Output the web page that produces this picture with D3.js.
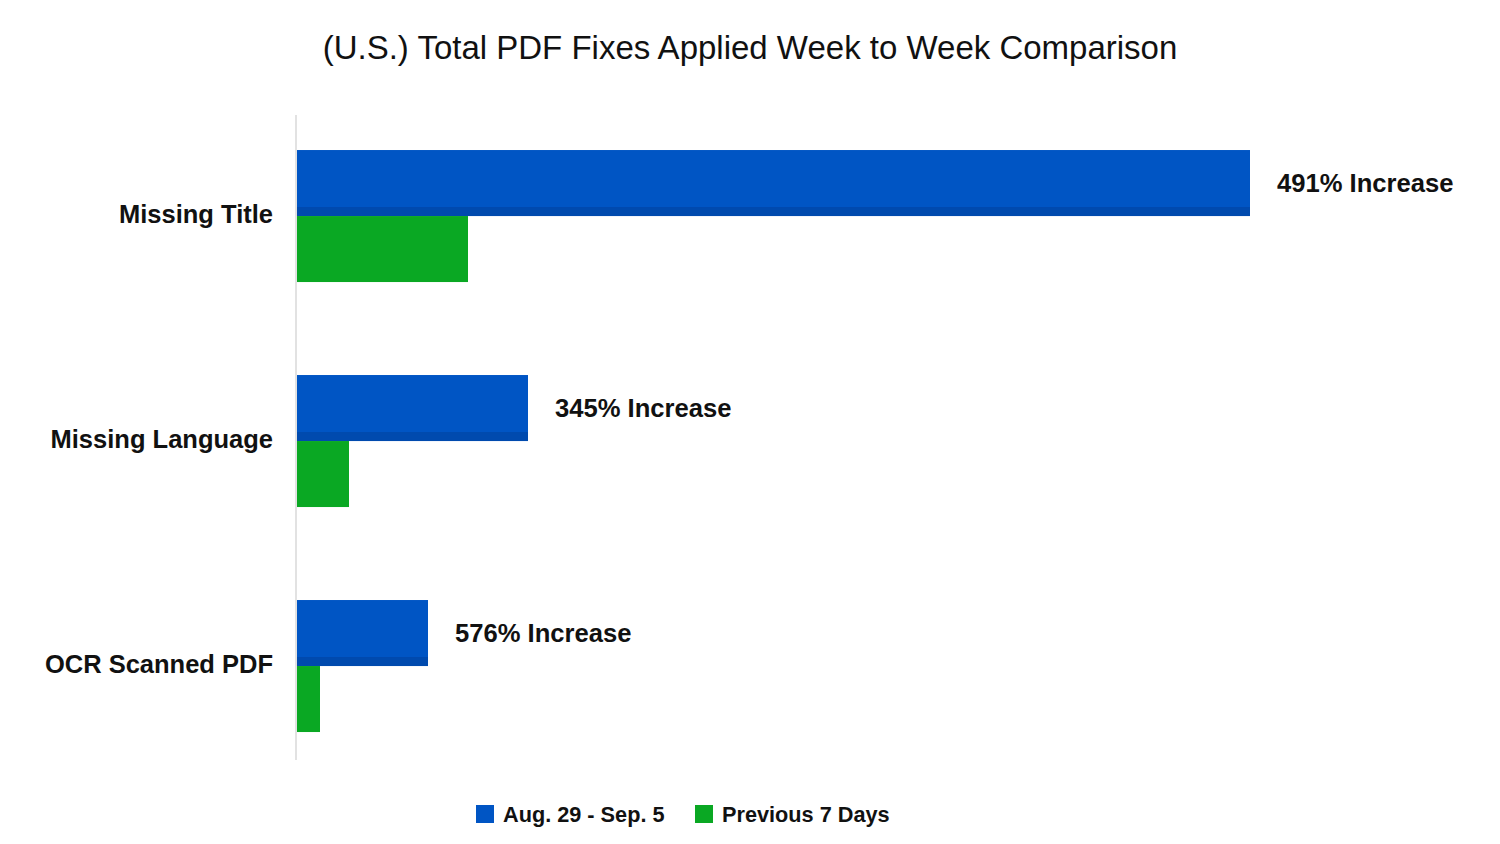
<!DOCTYPE html>
<html>
<head>
<meta charset="utf-8">
<script src="https://cdn.jsdelivr.net/npm/d3@7"></script>
<style>
  body { margin: 0; background: #fff; }
  text { font-family: "Liberation Sans", Arial, Helvetica, sans-serif; }
</style>
</head>
<body>
<div id="chart"></div>
<script>
const categories = ["Missing Title", "Missing Language", "OCR Scanned PDF"];
const currentWeek = [9530, 2310, 1310];
const previousWeek = [1710, 520, 230];
const increaseLabels = ["491% Increase", "345% Increase", "576% Increase"];
const seriesNames = ["Aug. 29 - Sep. 5", "Previous 7 Days"];
const colors = ["#0055c4", "#0aa823"];

const svg = d3.select("#chart")
    .append("svg")
    .attr("width", 1500)
    .attr("height", 844);

// title
svg.append("text")
    .attr("x", 750)
    .attr("y", 59)
    .attr("text-anchor", "middle")
    .attr("font-size", 33)
    .attr("fill", "#111")
    .text("(U.S.) Total PDF Fixes Applied Week to Week Comparison");

const x = d3.scaleLinear()
    .domain([0, 9530])
    .range([297, 1250]);

const y = d3.scaleBand()
    .domain(categories)
    .range([115, 760])
    .paddingInner(0.4133)
    .paddingOuter(0.14)
    .align(0.556);

const inner = d3.scaleBand()
    .domain([0, 1])
    .range([0, y.bandwidth()]);

// axis line
svg.append("line")
    .attr("x1", 296)
    .attr("x2", 296)
    .attr("y1", 115)
    .attr("y2", 760)
    .attr("stroke", "#e2e2e2")
    .attr("stroke-width", 2);

const groups = svg.selectAll("g.cat")
    .data(categories)
    .enter()
    .append("g")
    .attr("class", "cat")
    .attr("transform", (d) => "translate(0," + y(d) + ")");

// blue bars
groups.append("rect")
    .attr("x", x(0))
    .attr("y", inner(0))
    .attr("width", (d, i) => x(currentWeek[i]) - x(0))
    .attr("height", inner.bandwidth())
    .attr("fill", colors[0]);

// darker strip at the bottom of blue bars
groups.append("rect")
    .attr("x", x(0))
    .attr("y", inner(0) + inner.bandwidth() - 9)
    .attr("width", (d, i) => x(currentWeek[i]) - x(0))
    .attr("height", 9)
    .attr("fill", "#004aae");

// green bars
groups.append("rect")
    .attr("x", x(0))
    .attr("y", inner(1))
    .attr("width", (d, i) => x(previousWeek[i]) - x(0))
    .attr("height", inner.bandwidth())
    .attr("fill", colors[1]);

// category labels
groups.append("text")
    .attr("x", 273)
    .attr("y", y.bandwidth() / 2 - 2)
    .attr("dy", "0.35em")
    .attr("text-anchor", "end")
    .attr("font-size", 25.5)
    .attr("font-weight", "bold")
    .attr("fill", "#111")
    .text((d) => d);

// increase labels
groups.append("text")
    .attr("x", (d, i) => x(currentWeek[i]) + 27)
    .attr("y", inner(0) + inner.bandwidth() / 2)
    .attr("dy", "0.35em")
    .attr("font-size", 25.6)
    .attr("font-weight", "bold")
    .attr("fill", "#111")
    .text((d, i) => increaseLabels[i]);

// legend
const legendX = [476, 695];
const legend = svg.selectAll("g.legend")
    .data(seriesNames)
    .enter()
    .append("g")
    .attr("class", "legend")
    .attr("transform", (d, i) => "translate(" + legendX[i] + ",805)");

legend.append("rect")
    .attr("width", 18)
    .attr("height", 18)
    .attr("fill", (d, i) => colors[i]);

legend.append("text")
    .attr("x", 27)
    .attr("y", 9)
    .attr("dy", "0.35em")
    .attr("font-size", 21.7)
    .attr("font-weight", "bold")
    .attr("fill", "#111")
    .text((d) => d);
</script>
</body>
</html>
